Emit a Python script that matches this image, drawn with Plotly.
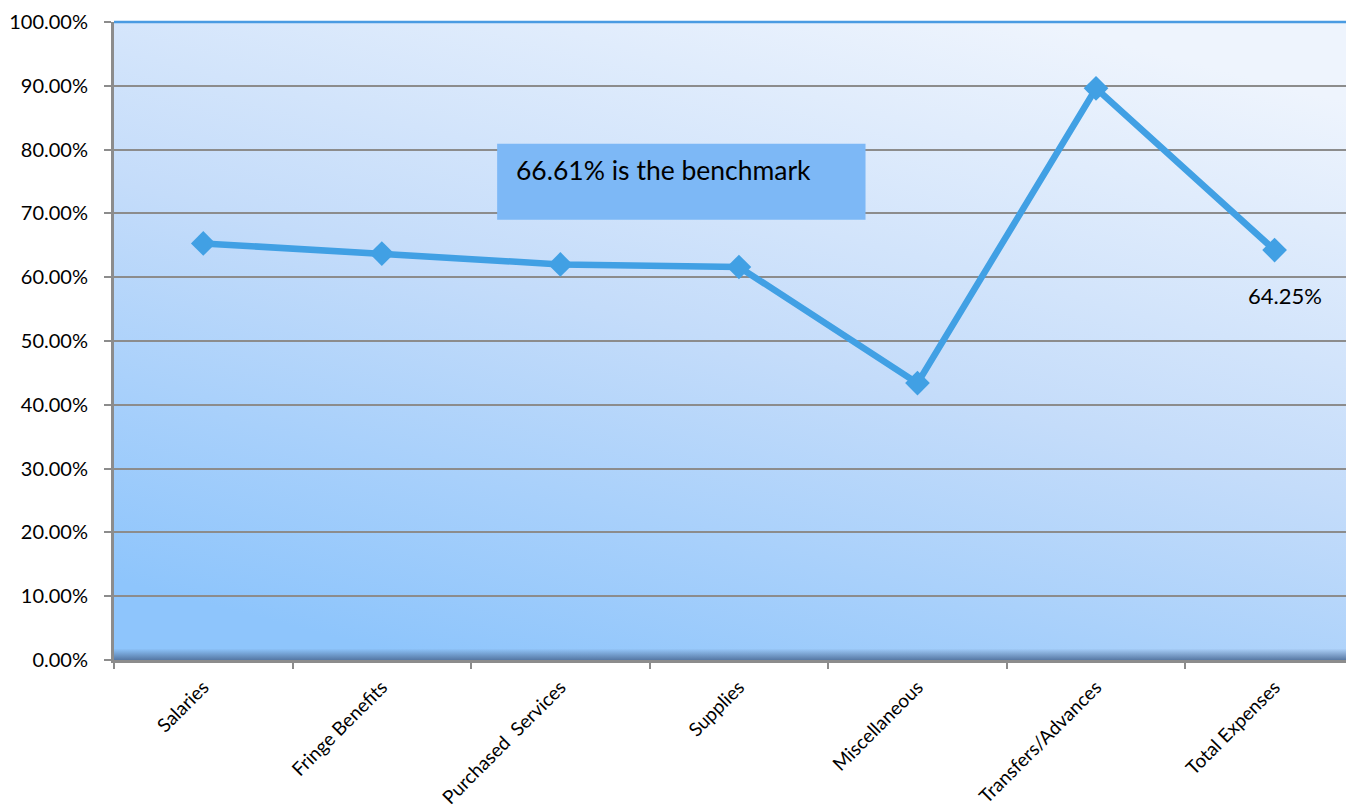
import base64
import plotly.graph_objects as go

# Share of budget spent, by expense category (percent)
categories = [
    "Salaries",
    "Fringe Benefits",
    "Purchased\u00a0 Services",
    "Supplies",
    "Miscellaneous",
    "Transfers/Advances",
    "Total Expenses",
]
spent_pct = [65.3, 63.7, 62.0, 61.6, 43.4, 89.6, 64.25]
benchmark_pct = 66.61

FONT = "Lato, 'Open Sans', sans-serif"
LINE_BLUE = "#41A0E4"

# Diagonal blue gradient for the plotting area, with a dark shadow along the floor
bg_svg = (
    "<svg xmlns='http://www.w3.org/2000/svg' width='100' height='100' "
    "viewBox='0 0 100 100' preserveAspectRatio='none'>"
    "<defs>"
    "<linearGradient id='g' x1='0.25' y1='1' x2='0.75' y2='0'>"
    "<stop offset='0' stop-color='#8EC5FC'/>"
    "<stop offset='0.5' stop-color='#C4DCFA'/>"
    "<stop offset='1' stop-color='#EEF4FD'/>"
    "</linearGradient>"
    "<linearGradient id='s' x1='0' y1='0' x2='0' y2='1'>"
    "<stop offset='0' stop-color='#4F6F9A' stop-opacity='0'/>"
    "<stop offset='1' stop-color='#4F6F9A' stop-opacity='0.9'/>"
    "</linearGradient>"
    "</defs>"
    "<rect width='100' height='100' fill='url(#g)'/>"
    "<rect y='98.2' width='100' height='1.8' fill='url(#s)'/>"
    "</svg>"
)
bg_uri = "data:image/svg+xml;base64," + base64.b64encode(bg_svg.encode()).decode()

fig = go.Figure()
fig.add_trace(
    go.Scatter(
        x=categories,
        y=spent_pct,
        mode="lines+markers",
        line=dict(color=LINE_BLUE, width=6.5),
        marker=dict(symbol="diamond", size=19, color=LINE_BLUE),
        hoverinfo="x+y",
        showlegend=False,
    )
)

# Value label under the overall total
fig.add_annotation(
    x=categories[-1],
    y=spent_pct[-1],
    text=f"{spent_pct[-1]:.2f}%",
    showarrow=False,
    yshift=-45,
    xshift=10,
    font=dict(family=FONT, size=22, color="black"),
)

# Benchmark callout box
fig.add_shape(
    type="rect",
    xref="paper",
    yref="paper",
    x0=0.311,
    x1=0.610,
    y0=0.690,
    y1=0.809,
    fillcolor="#7DB8F6",
    line=dict(width=0),
    layer="above",
)
fig.add_annotation(
    xref="paper",
    yref="paper",
    x=0.325,
    y=0.768,
    xanchor="left",
    yanchor="middle",
    text=f"{benchmark_pct:.2f}% is the benchmark",
    showarrow=False,
    font=dict(family=FONT, size=26.5, color="black"),
)

# Blue rule along the top of the plotting area
fig.add_shape(
    type="line",
    xref="paper",
    yref="paper",
    x0=0,
    x1=1,
    y0=1,
    y1=1,
    line=dict(color="#4A9BE2", width=2.5),
)

fig.add_layout_image(
    source=bg_uri,
    xref="paper",
    yref="paper",
    x=0,
    y=1,
    sizex=1,
    sizey=1,
    xanchor="left",
    yanchor="top",
    sizing="stretch",
    layer="below",
)

fig.update_layout(
    width=1346,
    height=809,
    margin=dict(l=114, r=0, t=22, b=149),
    paper_bgcolor="white",
    plot_bgcolor="rgba(0,0,0,0)",
    font=dict(family=FONT, size=18, color="black"),
    xaxis=dict(
        type="category",
        range=[-0.5, 6.40],
        tickson="boundaries",
        ticks="outside",
        ticklen=6,
        tickwidth=2,
        tickcolor="#8C8C8C",
        tickangle=-45,
        tickfont=dict(family=FONT, size=19, color="black"),
        ticklabelstandoff=6,
        showgrid=False,
        showline=True,
        linecolor="#8C8C8C",
        linewidth=2.5,
        zeroline=False,
    ),
    yaxis=dict(
        range=[0, 100],
        dtick=10,
        tickformat=".2f",
        ticksuffix="%",
        ticks="outside",
        ticklen=7,
        tickwidth=2,
        tickcolor="#8C8C8C",
        tickfont=dict(family=FONT, size=20, color="black"),
        ticklabelstandoff=12,
        showgrid=True,
        gridcolor="#8C8C8C",
        gridwidth=2,
        showline=True,
        linecolor="#8C8C8C",
        linewidth=3,
        zeroline=False,
    ),
)

fig.write_html("out.html")
